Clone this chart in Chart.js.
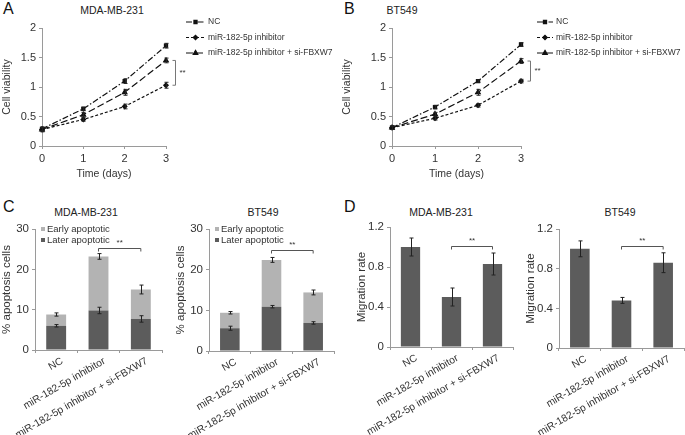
<!DOCTYPE html>
<html>
<head>
<meta charset="utf-8">
<script src="https://cdn.jsdelivr.net/npm/chart.js@4.4.1/dist/chart.umd.min.js"></script>
<style>
  body { margin: 0; background: #fff; width: 685px; height: 435px; position: relative; overflow: hidden;
         font-family: "Liberation Sans", Arial, sans-serif; }
  .lbl { position: absolute; font-size: 16px; color: #111; line-height: 1; }
  .ttl { position: absolute; font-size: 10.5px; color: #222; transform: translate(-50%, -50%); white-space: nowrap; }
</style>
</head>
<body>
<div class="lbl" style="left:3px;top:1px">A</div>
<div class="lbl" style="left:344px;top:1px">B</div>
<div class="lbl" style="left:3px;top:199px">C</div>
<div class="lbl" style="left:344px;top:199px">D</div>
<div class="ttl" style="left:112px;top:10px">MDA-MB-231</div>
<div class="ttl" style="left:402px;top:10px">BT549</div>
<div class="ttl" style="left:86px;top:212px">MDA-MB-231</div>
<div class="ttl" style="left:263px;top:212px">BT549</div>
<div class="ttl" style="left:441px;top:212px">MDA-MB-231</div>
<div class="ttl" style="left:620px;top:212px">BT549</div>
<script>
// ---- data ----
var days = ['0', '1', '2', '3'];
var groups = ['NC', 'miR-182-5p inhibitor', 'miR-182-5p inhibitor + si-FBXW7'];

// A: MDA-MB-231 cell viability
var mdaNC = [0.29, 0.63, 1.10, 1.70];
var mdaNCErr = [0.03, 0.03, 0.04, 0.04];
var mdaInh = [0.28, 0.45, 0.67, 1.03];
var mdaInhErr = [0.04, 0.03, 0.04, 0.05];
var mdaSi = [0.28, 0.53, 0.91, 1.45];
var mdaSiErr = [0.03, 0.04, 0.05, 0.04];

// B: BT549 cell viability
var btNC = [0.31, 0.66, 1.10, 1.72];
var btNCErr = [0.03, 0.03, 0.02, 0.03];
var btInh = [0.31, 0.47, 0.69, 1.10];
var btInhErr = [0.03, 0.03, 0.03, 0.03];
var btSi = [0.31, 0.54, 0.91, 1.44];
var btSiErr = [0.03, 0.03, 0.05, 0.04];

// C: apoptosis
var mdaLater = [6.0, 9.8, 7.7];
var mdaLaterErr = [0.3, 0.8, 0.8];
var mdaEarly = [2.8, 13.4, 7.3];
var mdaEarlyErr = [0.4, 0.7, 1.1];
var btLater = [5.6, 10.9, 6.9];
var btLaterErr = [0.5, 0.3, 0.3];
var btEarly = [3.8, 11.5, 7.5];
var btEarlyErr = [0.3, 0.6, 0.6];

// D: migration
var mdaMig = [1.00, 0.50, 0.83];
var mdaMigErr = [0.09, 0.09, 0.11];
var btMig = [1.00, 0.48, 0.86];
var btMigErr = [0.08, 0.03, 0.10];

var FONT = '"Liberation Sans", Arial, sans-serif';
var AXIS = '#9a9a9a';
var DARK = '#5c5c5c', LIGHT = '#b3b3b3';

// error bars, read through the y scale
var errorBars = {
  id: 'errorBars',
  afterDatasetsDraw: function (chart) {
    var ctx = chart.ctx, ys = chart.scales.y;
    chart.data.datasets.forEach(function (ds, di) {
      if (!ds.errors) return;
      var meta = chart.getDatasetMeta(di);
      ctx.save();
      ctx.strokeStyle = '#222';
      ctx.lineWidth = 1;
      meta.data.forEach(function (el, i) {
        var v = ys.getValueForPixel(el.y), e = ds.errors[i];
        var t = ys.getPixelForValue(v + e), b = ys.getPixelForValue(v - e);
        var x = Math.round(el.x) + 0.5;
        ctx.beginPath();
        ctx.moveTo(x, t); ctx.lineTo(x, b);
        ctx.moveTo(x - 2, t); ctx.lineTo(x + 2, t);
        ctx.moveTo(x - 2, b); ctx.lineTo(x + 2, b);
        ctx.stroke();
      });
      ctx.restore();
    });
  }
};

// legend at right of the line charts
var lineLegend = {
  id: 'lineLegend',
  afterDraw: function (chart, args, opts) {
    var ctx = chart.ctx, a = chart.chartArea;
    var x0 = a.right + opts.dx;
    ctx.save();
    chart.data.datasets.forEach(function (ds, i) {
      var y = a.top - 6 + i * 15.5;
      ctx.strokeStyle = '#111';
      ctx.lineWidth = 1.2;
      ctx.setLineDash(ds.borderDash);
      ctx.beginPath();
      ctx.moveTo(x0, y); ctx.lineTo(x0 + opts.len, y);
      ctx.stroke();
      ctx.setLineDash([]);
      ctx.fillStyle = '#111';
      Chart.helpers.drawPoint(ctx, { pointStyle: ds.pointStyle, radius: ds.pointRadius, rotation: 0, borderWidth: 1 }, x0 + opts.len / 2, y);
      ctx.fillStyle = '#333';
      ctx.font = opts.size + 'px ' + FONT;
      ctx.textBaseline = 'middle';
      ctx.fillText(ds.label, x0 + opts.len + 3, y);
    });
    ctx.restore();
  }
};

// "**" bracket beside the day-3 points
var sideBracket = {
  id: 'sideBracket',
  afterDraw: function (chart, args, opts) {
    var ctx = chart.ctx, ys = chart.scales.y, a = chart.chartArea;
    var top = ys.getPixelForValue(chart.data.datasets[opts.from].data[3]);
    var bot = ys.getPixelForValue(chart.data.datasets[opts.to].data[3]);
    var x = a.right + 9.5;
    ctx.save();
    ctx.strokeStyle = '#777';
    ctx.lineWidth = 1;
    ctx.beginPath();
    ctx.moveTo(x - 3, top); ctx.lineTo(x, top); ctx.lineTo(x, bot); ctx.lineTo(x - 3, bot);
    ctx.stroke();
    ctx.fillStyle = '#333';
    ctx.font = '8px ' + FONT;
    ctx.textBaseline = 'middle';
    ctx.fillText('**', x + 4, (top + bot) / 2);
    ctx.restore();
  }
};

// square legend inside the stacked bar charts
var boxLegend = {
  id: 'boxLegend',
  afterDraw: function (chart, args, opts) {
    if (!opts.show) return;
    var ctx = chart.ctx, a = chart.chartArea;
    var ds = chart.data.datasets.slice().reverse();
    ctx.save();
    ctx.font = '9.5px ' + FONT;
    ctx.textBaseline = 'middle';
    ds.forEach(function (d, i) {
      var y = a.top + 0 + i * 11;
      ctx.fillStyle = d.backgroundColor;
      ctx.fillRect(a.left + 6, y - 2, 4, 4);
      ctx.fillStyle = '#333';
      ctx.fillText(d.label, a.left + 12, y);
    });
    ctx.restore();
  }
};

// "**" bracket over two bars
var sigBar = {
  id: 'sigBar',
  afterDraw: function (chart, args, opts) {
    var ctx = chart.ctx, xs = chart.scales.x, ys = chart.scales.y;
    var x1 = xs.getPixelForValue(opts.from), x2 = xs.getPixelForValue(opts.to);
    var y = Math.round(ys.getPixelForValue(opts.y)) + 0.5;
    ctx.save();
    ctx.strokeStyle = '#555';
    ctx.lineWidth = 1;
    ctx.beginPath();
    ctx.moveTo(x1, y + 3); ctx.lineTo(x1, y); ctx.lineTo(x2, y); ctx.lineTo(x2, y + 3);
    ctx.stroke();
    ctx.fillStyle = '#333';
    ctx.font = '8px ' + FONT;
    ctx.textAlign = 'center';
    ctx.fillText('**', (x1 + x2) / 2, y - 4);
    ctx.restore();
  }
};

function makeChart(box, area, cfg) {
  var cv = document.createElement('canvas');
  cv.width = box[2];
  cv.height = box[3];
  cv.style.cssText = 'position:absolute;left:' + box[0] + 'px;top:' + box[1] + 'px;width:' + box[2] + 'px;height:' + box[3] + 'px';
  document.body.appendChild(cv);
  var o = cfg.options;
  o.responsive = false;
  o.animation = false;
  o.devicePixelRatio = 1;
  o.layout = { padding: { left: 0, top: area[1] - box[1], right: box[0] + box[2] - area[2], bottom: 0 } };
  o.scales.y.afterFit = function (s) { s.width = area[0] - box[0]; };
  o.scales.x.afterFit = function (s) { s.height = box[1] + box[3] - area[3]; };
  return new Chart(cv, cfg);
}

function lineSets(nc, ncE, inh, inhE, si, siE) {
  var base = { borderColor: '#111', backgroundColor: '#111', pointBorderColor: '#111', pointBackgroundColor: '#111',
               borderWidth: 1.2, fill: false, tension: 0 };
  return [
    Object.assign({ label: groups[0], data: nc, errors: ncE, borderDash: [6, 2, 1.5, 2], pointStyle: 'rect', pointRadius: 2.2 }, base),
    Object.assign({ label: groups[1], data: inh, errors: inhE, borderDash: [3, 2], pointStyle: 'rectRot', pointRadius: 2.2 }, base),
    Object.assign({ label: groups[2], data: si, errors: siE, borderDash: [7, 3], pointStyle: 'triangle', pointRadius: 2.6 }, base)
  ];
}

function plainNum(v) { return String(Math.round(v * 10) / 10); }

function lineOptions(titlePad, leg) {
  return {
    plugins: { legend: { display: false }, tooltip: { enabled: false },
               lineLegend: leg, sideBracket: { from: 2, to: 1 } },
    scales: {
      x: {
        offset: false,
        border: { color: AXIS },
        grid: { display: true, drawOnChartArea: false, tickLength: 3, color: AXIS },
        ticks: { color: '#333', font: { family: FONT, size: 11 }, padding: 3, maxRotation: 0 },
        title: { display: true, text: 'Time (days)', color: '#333', font: { family: FONT, size: 10.5 }, padding: { top: 0, bottom: 20 } }
      },
      y: {
        min: 0, max: 2,
        border: { color: AXIS },
        grid: { display: true, drawOnChartArea: false, tickLength: 3, color: AXIS },
        ticks: { stepSize: 0.5, color: '#333', font: { family: FONT, size: 11 }, padding: 3, callback: plainNum },
        title: { display: true, text: 'Cell viability', color: '#333', font: { family: FONT, size: 10.5 }, padding: { top: titlePad, bottom: 0 } }
      }
    }
  };
}

function barOptions(yTitle, yMax, step, titlePad, sig, legendShow) {
  return {
    plugins: { legend: { display: false }, tooltip: { enabled: false },
               sigBar: sig, boxLegend: { show: legendShow } },
    datasets: { bar: { categoryPercentage: 1, barPercentage: 0.47 } },
    scales: {
      x: {
        stacked: true,
        border: { color: AXIS },
        grid: { display: true, drawOnChartArea: false, tickLength: 3, color: AXIS },
        ticks: { color: '#333', font: { family: FONT, size: 10.3 }, padding: 2, labelOffset: 6,
                 minRotation: 30, maxRotation: 30, autoSkip: false }
      },
      y: {
        stacked: true, min: 0, max: yMax,
        border: { color: AXIS },
        grid: { display: true, drawOnChartArea: false, tickLength: 3, color: AXIS },
        ticks: { stepSize: step, color: '#333', font: { family: FONT, size: 11.5 }, padding: 3, callback: plainNum },
        title: { display: true, text: yTitle, color: '#333', font: { family: FONT, size: 11.5 }, padding: { top: titlePad, bottom: 0 } }
      }
    }
  };
}

var linePlugins = [errorBars, lineLegend, sideBracket];
var barPlugins = [errorBars, boxLegend, sigBar];

// A
makeChart([0, 0, 340, 200], [42, 28, 166, 146], {
  type: 'line',
  data: { labels: days, datasets: lineSets(mdaNC, mdaNCErr, mdaInh, mdaInhErr, mdaSi, mdaSiErr) },
  options: lineOptions(1, { dx: 20, len: 19, size: 8.5 }),
  plugins: linePlugins
});

// B
makeChart([340, 0, 345, 200], [392, 28, 521, 146], {
  type: 'line',
  data: { labels: days, datasets: lineSets(btNC, btNCErr, btInh, btInhErr, btSi, btSiErr) },
  options: lineOptions(1, { dx: 16, len: 16, size: 8.5 }),
  plugins: linePlugins
});

// C left
makeChart([0, 200, 170, 235], [35, 229, 162, 350], {
  type: 'bar',
  data: { labels: groups, datasets: [
    { label: 'Later apoptotic', data: mdaLater, errors: mdaLaterErr, backgroundColor: DARK },
    { label: 'Early apoptotic', data: mdaEarly, errors: mdaEarlyErr, backgroundColor: LIGHT }
  ] },
  options: barOptions('% apoptosis cells', 30, 10, 0, { from: 1, to: 2, y: 25.4 }, true),
  plugins: barPlugins
});

// C right
makeChart([170, 200, 170, 235], [209, 229, 334, 351], {
  type: 'bar',
  data: { labels: groups, datasets: [
    { label: 'Later apoptotic', data: btLater, errors: btLaterErr, backgroundColor: DARK },
    { label: 'Early apoptotic', data: btEarly, errors: btEarlyErr, backgroundColor: LIGHT }
  ] },
  options: barOptions('% apoptosis cells', 30, 10, 4, { from: 1, to: 2, y: 24.8 }, true),
  plugins: barPlugins
});

// D left
makeChart([340, 200, 180, 235], [390, 227, 513, 347], {
  type: 'bar',
  data: { labels: groups, datasets: [
    { label: 'Migration rate', data: mdaMig, errors: mdaMigErr, backgroundColor: DARK }
  ] },
  options: barOptions('Migration rate', 1.2, 0.4, 15, { from: 1, to: 2, y: 1.01 }, false),
  plugins: barPlugins
});

// D right
makeChart([520, 200, 165, 235], [559, 229, 684, 348], {
  type: 'bar',
  data: { labels: groups, datasets: [
    { label: 'Migration rate', data: btMig, errors: btMigErr, backgroundColor: DARK }
  ] },
  options: barOptions('Migration rate', 1.2, 0.4, 4, { from: 1, to: 2, y: 1.03 }, false),
  plugins: barPlugins
});
</script>
</body>
</html>
